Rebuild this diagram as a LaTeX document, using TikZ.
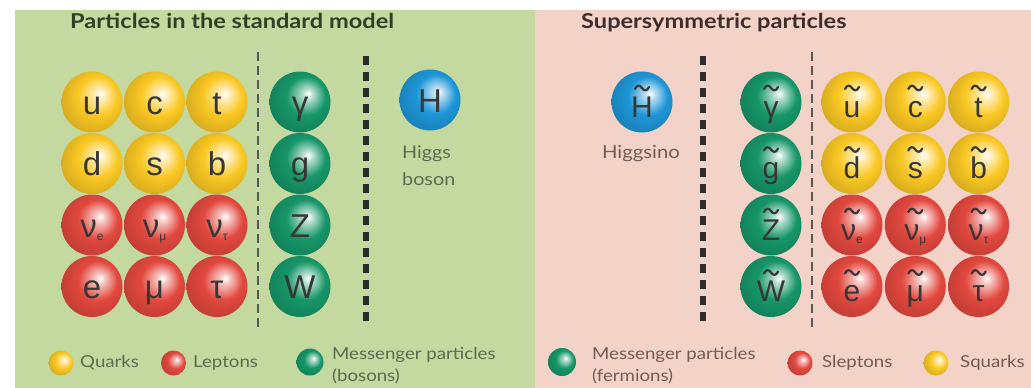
\documentclass[tikz,border=0pt]{standalone}
\usepackage{fontspec}
\setmainfont{Lato}
\newfontfamily\sphfam{Liberation Sans}
\newfontfamily\titlefam[FakeStretch=1.15]{Lato}
\newfontfamily\labelfam[FakeStretch=1.13]{Lato}
\usepackage{tikz}
\definecolor{greenbg}{RGB}{195,217,160}
\definecolor{pinkbg}{RGB}{243,210,199}
\definecolor{quark}{RGB}{250,200,35}
\definecolor{lepton}{RGB}{226,72,62}
\definecolor{boson}{RGB}{22,150,105}
\definecolor{higgs}{RGB}{30,150,215}
\definecolor{letter}{RGB}{55,55,55}
\definecolor{ltitle}{RGB}{50,62,38}
\definecolor{rtitle}{RGB}{62,45,42}
\definecolor{ltext}{RGB}{95,105,80}
\definecolor{rtext}{RGB}{115,92,88}
\definecolor{divider}{RGB}{45,45,45}
\colorlet{sphcol}{red}
\pgfdeclareradialshading[sphcol]{glossy}{\pgfpoint{7bp}{7bp}}{color(0bp)=(white); color(4bp)=(sphcol!30!white); color(16bp)=(sphcol); color(30bp)=(sphcol!85!black); color(50bp)=(sphcol!70!black)}
\newcommand\nsub[1]{\raisebox{-3pt}{\fontsize{12}{12}\selectfont #1}}
\tikzset{
  glossy/.code={\colorlet{sphcol}{#1}\tikzset{shade,shading=glossy}},
  sph/.style={circle, minimum size=61pt, inner sep=0pt, glossy=#1, text=letter,
    font=\sphfam\fontsize{33}{33}\selectfont, text height=24pt, text depth=0pt},
  ssph/.style={sph=#1, font=\sphfam\fontsize{30}{30}\selectfont, text height=30pt},
  legball/.style={circle, minimum size=25pt, inner sep=0pt, glossy=#1},
  legtext/.style={font=\labelfam\fontsize{16.5}{22}\selectfont, inner sep=0pt, align=left},
  titletext/.style={anchor=base west, inner sep=0pt, font=\titlefam\bfseries\fontsize{20.5}{20}\selectfont},
  thindash/.style={line width=2.5pt, dash pattern=on 9pt off 5pt, draw=divider!80!white},
  thickdot/.style={line width=5.5pt, dash pattern=on 9pt off 7pt, draw=divider},
  tilde/.pic={\draw[line width=2.2pt, letter, line cap=round]
    (-7,1) .. controls (-5,-3.5) and (-2,-3) .. (0,0) .. controls (2,3) and (5,3.5) .. (7,-1);}
}

\begin{document}
\begin{tikzpicture}[x=1pt,y=-1pt]
    \useasboundingbox (0,0) rectangle (1031,388);
    \fill[greenbg] (15,10) rectangle (535,388);
    \fill[pinkbg] (535,10) rectangle (1031,388);

    \node[titletext, text=ltitle] (smtitle) at (70,28) {Particles in the standard model};
    \node[titletext, text=rtitle] (susytitle) at (581,28) {Supersymmetric particles};

    \foreach \lbl [count=\i] in {u,c,t}
      \node[sph=quark] (q1\i) at (29.5+62.5*\i,102) {\lbl};
    \foreach \lbl [count=\i] in {d,s,b}
      \node[sph=quark] (q2\i) at (29.5+62.5*\i,163.5) {\lbl};
    \foreach \lbl [count=\i] in {{ν\nsub{e}},{ν\nsub{μ}},{ν\nsub{τ}}}
      \node[sph=lepton] (l1\i) at (29.5+62.5*\i,225) {\lbl};
    \foreach \lbl [count=\i] in {e,μ,τ}
      \node[sph=lepton] (l2\i) at (29.5+62.5*\i,286.5) {\lbl};
    \foreach \lbl [count=\i] in {γ,g,Z,W}
      \node[sph=boson] (b\i) at (300,40.5+61.5*\i) {\lbl};

    \draw[thindash] (258,52) -- (258,330);
    \draw[thickdot] (366,56) -- (366,328);

    \node[sph=higgs] (hb) at (430,100) {H};
    \node[anchor=north west, inner sep=0pt, align=left, font=\labelfam\fontsize{17.5}{27}\selectfont, text=ltext]
      (hbtext) at (402,146) {Higgs\\boson};

    \node[ssph=higgs] (sh) at (642,102) {H};
    \pic at ([yshift=14pt]sh.center) {tilde};
    \node[anchor=base, inner sep=0pt, font=\labelfam\fontsize{18}{18}\selectfont, text=rtext]
      (shtext) at (641,158) {Higgsino};

    \draw[thickdot] (703,56) -- (703,328);
    \draw[thindash] (812,52) -- (812,330);

    \foreach \lbl [count=\i] in {γ,g,Z,W} {
      \node[ssph=boson] (sb\i) at (771,40.5+61.5*\i) {\lbl};
      \pic at ([yshift=14pt]sb\i.center) {tilde};
    }
    \foreach \lbl [count=\i] in {u,c,t} {
      \node[ssph=quark] (sq1\i) at (788.7+63.3*\i,102) {\lbl};
      \pic at ([yshift=14pt]sq1\i.center) {tilde};
    }
    \foreach \lbl [count=\i] in {d,s,b} {
      \node[ssph=quark] (sq2\i) at (788.7+63.3*\i,163.5) {\lbl};
      \pic at ([yshift=14pt]sq2\i.center) {tilde};
    }
    \foreach \lbl [count=\i] in {{ν\nsub{e}},{ν\nsub{μ}},{ν\nsub{τ}}} {
      \node[ssph=lepton] (sl1\i) at (788.7+63.3*\i,225) {\lbl};
      \pic at ([yshift=14pt]sl1\i.center) {tilde};
    }
    \foreach \lbl [count=\i] in {e,μ,τ} {
      \node[ssph=lepton] (sl2\i) at (788.7+63.3*\i,286.5) {\lbl};
      \pic at ([yshift=14pt]sl2\i.center) {tilde};
    }

    \node[legball=quark] (lq) at (61,363) {};
    \node[legtext, anchor=base west, text=ltext] (lqtext) at (80,367) {Quarks};
    \node[legball=lepton] (ll) at (173.5,363) {};
    \node[legtext, anchor=base west, text=ltext] (lltext) at (193,367) {Leptons};
    \node[legball=boson, minimum size=27pt] (lb) at (310,362) {};
    \node[legtext, anchor=north west, text=ltext] (lbtext) at (332,347) {Messenger particles\\(bosons)};

    \node[legball=boson, minimum size=28pt] (rb) at (562,362) {};
    \node[legtext, anchor=north west, text=rtext] (rbtext) at (592,347) {Messenger particles\\(fermions)};
    \node[legball=lepton] (rl) at (800,363) {};
    \node[legtext, anchor=base west, text=rtext] (rltext) at (822,367) {Sleptons};
    \node[legball=quark] (rq) at (936,363) {};
    \node[legtext, anchor=base west, text=rtext] (rqtext) at (960,367) {Squarks};
\end{tikzpicture}
\end{document}
